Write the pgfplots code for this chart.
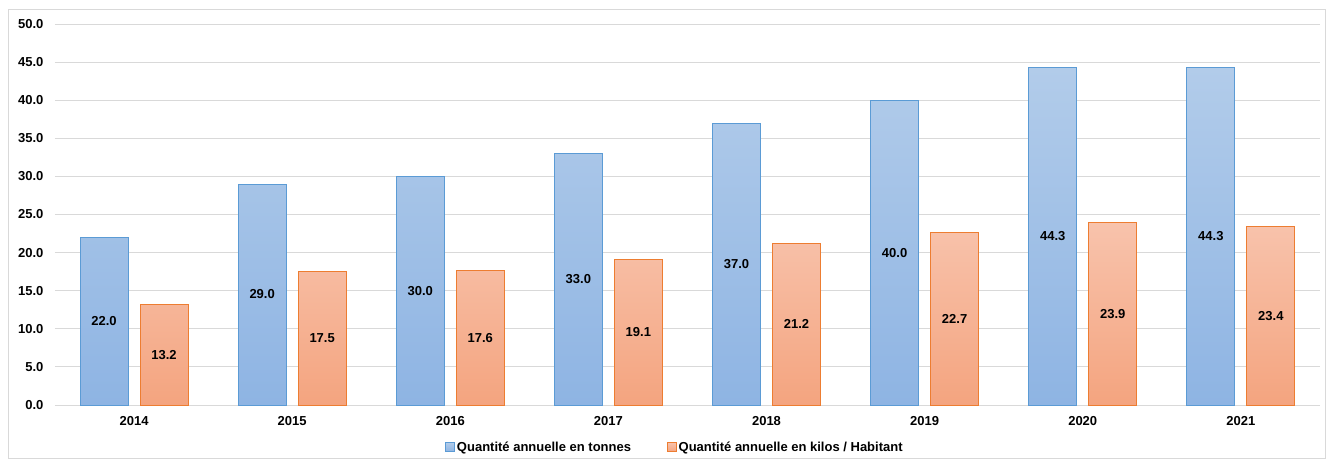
\documentclass[border=0pt]{standalone}
\usepackage{pgfplots}
\pgfplotsset{compat=1.18}
\usepackage{fontspec}
\setmainfont{Liberation Sans}

\definecolor{bluetop}{HTML}{B2CCEA}
\definecolor{bluebot}{HTML}{8EB4E3}
\definecolor{blueedge}{HTML}{5B9BD5}
\definecolor{orgtop}{HTML}{F8C3AC}
\definecolor{orgbot}{HTML}{F4A47F}
\definecolor{orgedge}{HTML}{ED7D31}
\definecolor{gridgray}{HTML}{D9D9D9}

% data: years 2014..2021 at x = 0..7
\pgfplotstableread{
x tonnes kilos
0 22.0 13.2
1 29.0 17.5
2 30.0 17.6
3 33.0 19.1
4 37.0 21.2
5 40.0 22.7
6 44.3 23.9
7 44.3 23.4
}\qdata

\begin{document}
\begin{tikzpicture}[x=1pt,y=1pt]
\begin{axis}[
  at={(0,0)}, anchor=south west,
  scale only axis,
  width=1265pt, height=381pt,
  ybar=12pt, bar width=48pt,
  xmin=-0.5, xmax=7.5,
  ymin=0, ymax=50,
  ytick={0,5,...,50},
  xtick=data,
  xticklabels={2014,2015,2016,2017,2018,2019,2020,2021},
  axis x line*=bottom,
  axis y line*=left,
  y axis line style={draw=none},
  x axis line style={draw=gridgray, line width=1pt, -},
  major tick length=0pt,
  ymajorgrids,
  grid style={draw=gridgray, line width=1pt},
  tick label style={font=\fontsize{13}{15}\selectfont\bfseries},
  /pgf/number format/assume math mode=true,
  yticklabel={\pgfmathprintnumber[fixed,fixed zerofill,precision=1]{\tick}},
  yticklabel style={xshift=-8pt},
  xticklabel style={yshift=-8pt},
  clip=false,
  legend style={at={(620pt,-42pt)}, anchor=center, draw=none, fill=none,
    font=\fontsize{13}{15}\selectfont\bfseries, legend columns=2,
    /tikz/every even column/.append style={column sep=34pt}},
  legend image code/.code={\draw[#1, line width=0.6pt] (0pt,-4.5pt) rectangle (9pt,4.5pt);},
  visualization depends on=rawy \as \rawy,
  nodes near coords={\pgfmathprintnumber[fixed,fixed zerofill,precision=1,assume math mode=true]{\rawy}},
  every node near coord/.append style={anchor=center, font=\fontsize{13}{15}\selectfont\bfseries, text=black,
    shift={(axis direction cs:0,-\rawy/2)}},
]
\addplot[draw=blueedge, line width=1pt, top color=bluetop, bottom color=bluebot]
  table[x=x, y=tonnes] {\qdata};
\addplot[draw=orgedge, line width=1pt, top color=orgtop, bottom color=orgbot]
  table[x=x, y=kilos] {\qdata};
\legend{Quantité annuelle en tonnes, Quantité annuelle en kilos / Habitant}
\end{axis}
\draw[gridgray, line width=1pt] (-46,-53.5) rectangle (1270.5,395);
\useasboundingbox (-55,-54) rectangle (1271,405);
\end{tikzpicture}
\end{document}
